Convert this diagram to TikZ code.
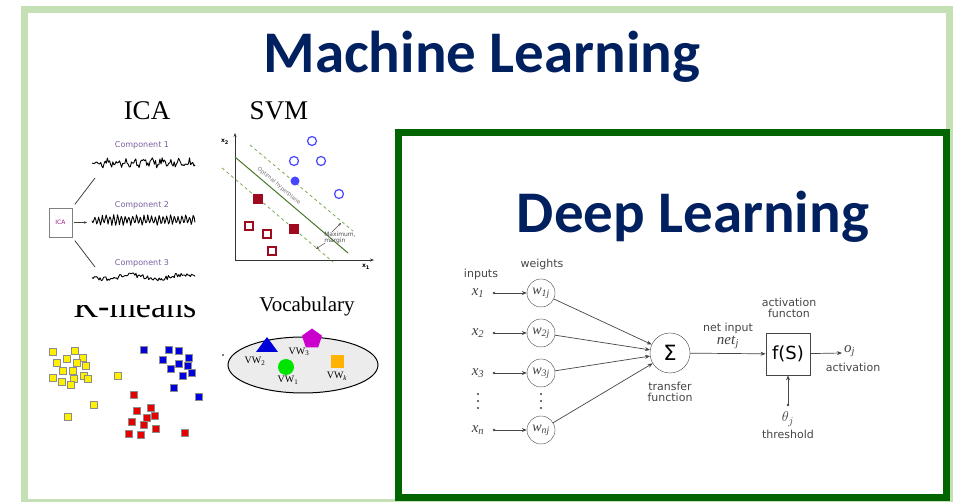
\documentclass[tikz,border=0pt]{standalone}
\usepackage{fontspec}
\setmainfont{Liberation Serif}
\setsansfont{DejaVu Sans}
\newfontfamily\titlefont{Carlito}
\usetikzlibrary{arrows.meta,shapes.geometric}
\definecolor{framegreen}{RGB}{197,224,180}
\definecolor{boxgreen}{RGB}{0,100,0}
\definecolor{titleblue}{RGB}{0,32,96}
\definecolor{netgray}{RGB}{70,70,70}
\definecolor{svmblue}{RGB}{70,70,255}
\definecolor{svmred}{RGB}{160,10,30}
\definecolor{svmgreen}{RGB}{70,120,40}
\definecolor{margingreen}{RGB}{120,170,80}
\definecolor{compviolet}{RGB}{120,95,160}
\definecolor{kyellow}{RGB}{255,240,0}
\definecolor{kblue}{RGB}{0,0,225}
\definecolor{kred}{RGB}{230,0,0}
\definecolor{vocgray}{RGB}{236,236,236}
\newcommand{\itsub}[2]{\textit{#1}\textsubscript{\textit{#2}}}
\tikzset{
  headline/.style={font=\titlefont\bfseries\fontsize{59}{60}\selectfont,text=titleblue,anchor=base,inner sep=0pt},
  caption/.style={font=\fontsize{27}{28}\selectfont,anchor=base,inner sep=0pt},
  comp/.style={font=\sffamily\fontsize{8}{8}\selectfont,text=compviolet,inner sep=0pt},
  signal/.style={black,line width=0.9pt,line join=round},
  icaline/.style={draw=black!75,line width=0.8pt},
  ksq/.style={draw=black!45,line width=0.6pt,minimum size=7pt,inner sep=0pt},
  rsq/.style={draw=svmred,line width=1.3pt,minimum size=8pt,inner sep=0pt},
  vw/.style={font=\fontsize{10}{10}\selectfont,inner sep=0pt},
  nettext/.style={font=\sffamily\fontsize{11}{11.5}\selectfont,text=netgray,inner sep=1pt},
  mathlab/.style={font=\fontsize{15}{15}\selectfont,text=black!75,inner sep=1pt},
  wcirc/.style={draw=netgray,circle,minimum size=28pt,inner sep=0pt,font=\fontsize{14}{14}\selectfont,text=black!75},
  arr/.style={draw=netgray,line width=0.7pt,-{Stealth[length=5pt,width=4pt]}}
}
\begin{document}
\begin{tikzpicture}[x=1pt,y=-1pt]
  \useasboundingbox (0,0) rectangle (954,502);
  \draw[framegreen,line width=7pt] (24.5,9.5) rectangle (949.5,503);
  \draw[boxgreen,line width=7pt,fill=white] (398.5,133) rectangle (946.5,497.5);
  \node[headline] (ml) at (482,73) {Machine Learning};
  \node[headline] (dl) at (693,233) {Deep Learning};

  % ICA
  \node[caption] (icat) at (147,120) {ICA};
  \node[draw=black!50,line width=0.8pt,minimum width=23pt,minimum height=29pt,inner sep=0pt,
        font=\sffamily\fontsize{6}{6}\selectfont,text=magenta!60!blue] (icabox) at (60.5,222.5) {ICA};
  \node[comp] (c1) at (142,145) {Component 1};
  \node[comp] (c2) at (142,205) {Component 2};
  \node[comp] (c3) at (142,263) {Component 3};
  \pgfmathsetseed{11}
  \draw[signal] plot[domain=92:195,samples=95] (\x,{163+3.5*rand+2*sin((\x-92)*40)});
  \draw[signal] plot[domain=92:195,samples=110] (\x,{220+4*sin((\x-92)*95)+1.5*rand});
  \draw[signal] plot[domain=92:195,samples=90] (\x,{277+2.2*rand+2*sin((\x-92)*7)});
  \coordinate (s1in) at (95,178);
  \coordinate (s2in) at (87,222.5);
  \coordinate (s3in) at (95,267);
  \draw[icaline,shorten <=4pt] (icabox.north east) -- (s1in);
  \draw[icaline,shorten <=2pt,-{Stealth[length=3pt,width=2.5pt]}] (icabox.east) -- (s2in);
  \draw[icaline,shorten <=4pt] (icabox.south east) -- (s3in);

  % SVM
  \node[caption] (svmt) at (279,120) {SVM};
  \coordinate (o) at (235,260);
  \coordinate (ytip) at (235,133);
  \coordinate (xtip) at (374,260);
  \draw[black!80,line width=0.8pt,-{Stealth[length=4pt,width=3pt]}] (o) -- (ytip);
  \draw[black!80,line width=0.8pt,-{Stealth[length=4pt,width=3pt]}] (o) -- (xtip);
  \node[font=\sffamily\bfseries\fontsize{6}{6}\selectfont] (x2) at (225,142) {x\textsubscript{2}};
  \node[font=\sffamily\bfseries\fontsize{6}{6}\selectfont] (x1) at (366,267) {x\textsubscript{1}};
  \draw[svmgreen,line width=1pt] (235,157) -- (348,253);
  \draw[margingreen,line width=0.8pt,dashed] (250,145) -- (353,231);
  \draw[margingreen,line width=0.8pt,dashed] (222,168) -- (333,262);
  \node[font=\sffamily\fontsize{5.5}{6}\selectfont,text=black!55,rotate=-40] (hyp) at (279,186) {Optimal hyperplane};
  \foreach \p in {(312,141),(294,161),(321,161),(339,194)}
    \draw[svmblue,line width=1.2pt] \p circle (4.5);
  \fill[svmblue] (295,181) circle (4.5);
  \foreach \p in {(258,199),(294,229)}
    \node[rsq,fill=svmred] at \p {};
  \foreach \p in {(249,226),(267,234),(272,251)}
    \node[rsq,fill=white] at \p {};
  \node[font=\sffamily\fontsize{6}{6.5}\selectfont,text=black!70,align=left] (mm) at (340,238) {Maximum,\\margin};
  \draw[black!70,line width=0.5pt,-{Stealth[length=3pt,width=2.5pt]}] (332,232) -- (341,223);
  \draw[black!70,line width=0.5pt,-{Stealth[length=3pt,width=2.5pt]}] (325,243) -- (316,249);

  % K-means
  \begin{scope}
    \clip (60,305.5) rectangle (215,330);
    \node[caption,font=\fontsize{34}{34}\selectfont] (kmt) at (135,318) {K-means};
  \end{scope}
  \foreach \p in {(53,352),(75,351),(57,363),(67,359),(83,358),(77,363),(86,366),(63,371),
                  (73,371),(53,378),(62,382),(74,379),(84,376),(88,379),(71,385),(118,376),
                  (94,405),(68,417)}
    \node[ksq,fill=kyellow] at \p {};
  \foreach \p in {(144,350),(169,350),(179,351),(163,360),(189,358),(179,364),(188,366),
                  (171,369),(192,373),(183,376),(174,388),(199,397)}
    \node[ksq,fill=kblue] at \p {};
  \foreach \p in {(134,395),(151,408),(137,411),(147,418),(155,416),(132,422),(144,425),
                  (156,429),(129,434),(141,435),(185,433)}
    \node[ksq,fill=kred] at \p {};

  % Vocabulary
  \node[caption,font=\fontsize{21}{22}\selectfont] (voct) at (307,312) {Vocabulary};
  \draw[fill=vocgray,line width=1pt] (303,365) ellipse (75 and 28);
  \fill (223,355) circle (0.8);
  \fill[blue!85!black] (267,337) -- (278,352) -- (256,352) -- cycle;
  \node[regular polygon,regular polygon sides=5,fill=violet!40!magenta,minimum size=21pt,inner sep=0pt] (pent) at (312,339) {};
  \fill[green!90!black] (286,367) circle (8);
  \node[fill=orange!60!yellow,minimum size=13pt,inner sep=0pt] (sq) at (337,362) {};
  \node[vw] (vw2) at (255,361) {VW\textsubscript{2}};
  \node[vw] (vw3) at (299,352) {VW\textsubscript{3}};
  \node[vw] (vw1) at (288,380) {VW\textsubscript{1}};
  \node[vw] (vwk) at (337,376) {VW\textsubscript{\textit{k}}};

  % neuron
  \node[nettext] (inputs) at (481,274) {inputs};
  \node[nettext] (weights) at (542,264) {weights};
  \node[draw=netgray,circle,minimum size=40pt,inner sep=0pt,font=\sffamily\fontsize{21}{21}\selectfont] (sum) at (670,353) {Σ};
  \node[nettext,align=center] (tf) at (670,392) {transfer\\function};
  \foreach \i/\y/\s in {1/293/1,2/333/2,3/373/3,4/430/n} {
    \node[mathlab] (x\i) at (478,\y) {\itsub{x}{\s}};
    \node[wcirc] (w\i) at (541,\y) {\itsub{w}{\s j}};
    \coordinate (d\i) at (494,\y);
    \fill[netgray] (d\i) circle (1.4);
    \draw[arr] (d\i) -- (w\i);
    \draw[arr] (w\i) -- (sum);
  }
  \foreach \x in {478,541}
    \foreach \y in {394,401,408}
      \fill[black!75] (\x,\y) circle (1.1);
  \node[draw=netgray,line width=0.8pt,minimum width=44pt,minimum height=42pt,inner sep=0pt,
        font=\sffamily\fontsize{18}{18}\selectfont] (act) at (788,354) {f(S)};
  \node[nettext,align=center] (actf) at (789,308) {activation\\functon};
  \draw[arr] (sum) -- (act);
  \node[nettext] (netin) at (728,328) {net input};
  \node[mathlab] (netj) at (728,342) {\itsub{net}{j}};
  \coordinate (out) at (842,353);
  \draw[arr] (act) -- (out);
  \node[mathlab,anchor=west] (oj) at (843,351) {\itsub{o}{j}};
  \node[nettext] (actout) at (853,367) {activation};
  \coordinate (th) at (788,405);
  \fill[netgray] (th) circle (1.4);
  \draw[arr] (th) -- (act);
  \node[mathlab] (thj) at (788,419) {$\theta_j$};
  \node[nettext] (thr) at (788,434) {threshold};
\end{tikzpicture}
\end{document}
